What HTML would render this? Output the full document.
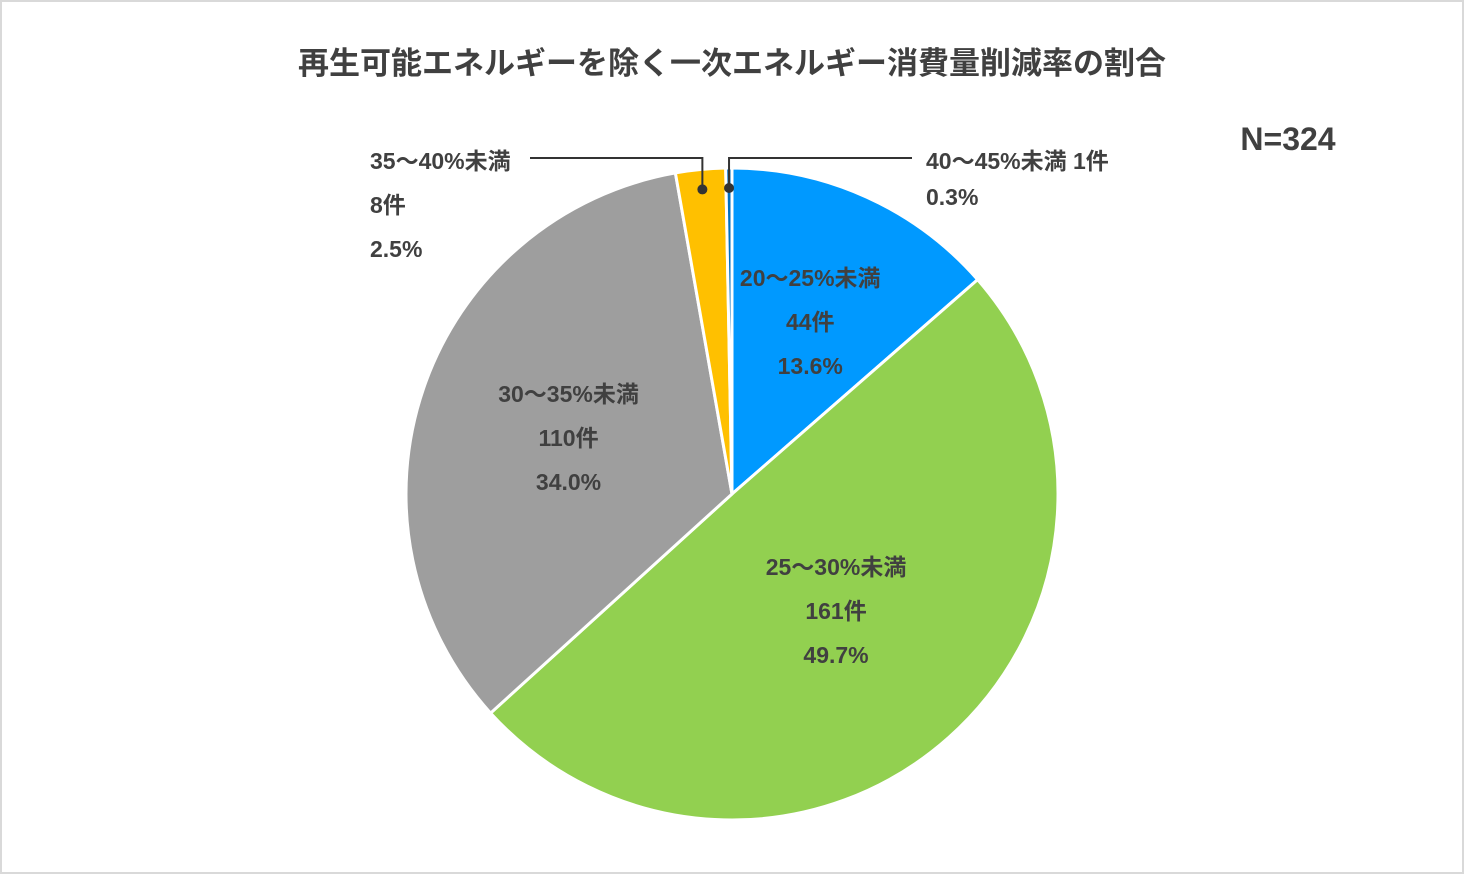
<!DOCTYPE html>
<html lang="ja">
<head>
<meta charset="utf-8">
<style>
  html,body{margin:0;padding:0;background:#fff;}
  #wrap{position:relative;width:1464px;height:874px;box-sizing:border-box;border:2px solid #d9d9d9;background:#fff;overflow:hidden;}
  svg text{font-family:"Liberation Sans","Noto Sans CJK JP",sans-serif;font-weight:bold;fill:#404040;}
</style>
</head>
<body>
<div id="wrap">
<svg id="chart" width="1464" height="874" viewBox="0 0 1464 874" style="position:absolute;left:-2px;top:-2px">
  <text x="732" y="74" font-size="31" text-anchor="middle">再生可能エネルギーを除く一次エネルギー消費量削減率の割合</text>
  <text x="1288" y="150" font-size="32" text-anchor="middle">N=324</text>
  <g id="slices"></g>
  <g id="labels"></g>
</svg>
</div>
<script>
const categories = ["20～25%未満","25～30%未満","30～35%未満","35～40%未満","40～45%未満"];
const counts = [44,161,110,8,1];
const percents = ["13.6%","49.7%","34.0%","2.5%","0.3%"];
const colors = ["#0099ff","#92d050","#9e9e9e","#ffc000","#0070c0"];

const cx=732, cy=494, R=326;
const total = counts.reduce((a,b)=>a+b,0);
const NS="http://www.w3.org/2000/svg";
const gS=document.getElementById("slices"), gL=document.getElementById("labels");
function pt(a,r){return [cx+r*Math.sin(a), cy-r*Math.cos(a)];}
function mkText(x,y,str,name){
  const t=document.createElementNS(NS,"text");
  t.setAttribute("x",x);t.setAttribute("y",y);t.setAttribute("font-size","23");
  t.setAttribute("text-anchor","middle");t.textContent=str;
  
  
  gL.appendChild(t);return t;
}
let acc=0;
const mids=[];
counts.forEach((c,i)=>{
  const a0=acc/total*2*Math.PI; acc+=c; const a1=acc/total*2*Math.PI;
  const p0=pt(a0,R), p1=pt(a1,R);
  const large=(a1-a0)>Math.PI?1:0;
  const p=document.createElementNS(NS,"path");
  p.setAttribute("d",`M${cx},${cy} L${p0[0]},${p0[1]} A${R},${R} 0 ${large} 1 ${p1[0]},${p1[1]} Z`);
  p.setAttribute("fill",colors[i]);p.setAttribute("stroke","#fff");p.setAttribute("stroke-width","3");
  
  
  gS.appendChild(p);
  mids.push((a0+a1)/2);
});
// inside labels for large slices
const rLab=[0.58,0.48,0.53];
for(let i=0;i<3;i++){
  const [x,y]=pt(mids[i],R*rLab[i]);
  mkText(x,y-36,categories[i],'label-category-'+(i+1));
  mkText(x,y+8,counts[i]+"件",'label-count-'+(i+1));
  mkText(x,y+52,percents[i],'label-percent-'+(i+1));
}
// leader lines for small slices
function leader(i, endX, name){
  const [dx,dy]=pt(mids[i],R-20);
  const pl=document.createElementNS(NS,"polyline");
  pl.setAttribute("points",`${endX},158 ${dx},158 ${dx},${dy}`);
  pl.setAttribute("fill","none");pl.setAttribute("stroke","#333");pl.setAttribute("stroke-width","2");
  
  
  gL.appendChild(pl);
  const c=document.createElementNS(NS,"circle");
  c.setAttribute("cx",dx);c.setAttribute("cy",dy);c.setAttribute("r","5");c.setAttribute("fill","#333");
  
  
  gL.appendChild(c);
}
leader(3,530,'leader-35-40');
leader(4,912,'leader-40-45');
let t;
t=mkText(370,169,categories[3],'label-category-4');t.setAttribute("text-anchor","start");
t=mkText(370,213,counts[3]+"件",'label-count-4');t.setAttribute("text-anchor","start");
t=mkText(370,257,percents[3],'label-percent-4');t.setAttribute("text-anchor","start");
t=mkText(926,169,categories[4]+"  "+counts[4]+"件",'label-category-5');t.setAttribute("text-anchor","start");t.setAttribute("xml:space","preserve");
t=mkText(926,205,percents[4],'label-percent-5');t.setAttribute("text-anchor","start");
</script>
</body>
</html>
